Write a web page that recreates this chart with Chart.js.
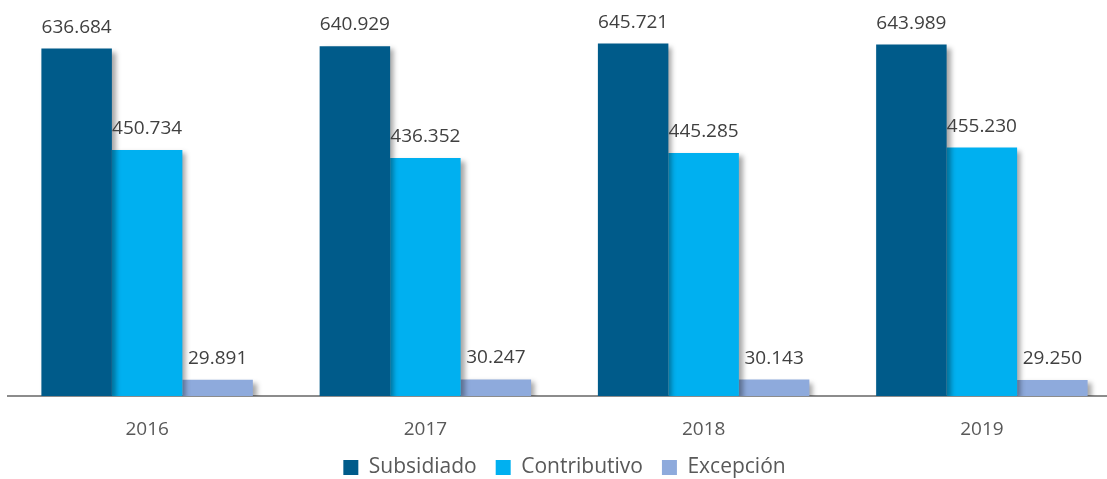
<!DOCTYPE html>
<html>
<head>
<meta charset="utf-8">
<script src="https://cdn.jsdelivr.net/npm/chart.js@4.4.0/dist/chart.umd.min.js"></script>
<style>
  html, body { margin: 0; padding: 0; background: #fff; overflow: hidden; }
  #wrap { width: 1107px; height: 479px; overflow: hidden; }
</style>
</head>
<body>
<div id="wrap"><canvas id="grafico" width="1122" height="488"></canvas></div>
<script>
// Datos del gráfico
const anios = ['2016', '2017', '2018', '2019'];
const subsidiado = [636684, 640929, 645721, 643989];
const contributivo = [450734, 436352, 445285, 455230];
const excepcion = [29891, 30247, 30143, 29250];

const colores = ['#005b8a', '#00b0f0', '#8eaadc'];
const fuente = "'Open Sans', 'Noto Sans', sans-serif";

const formatoMiles = v => String(v).replace(/\B(?=(\d{3})+(?!\d))/g, '.');

// Sombra de las barras
const sombraBarras = {
  id: 'sombraBarras',
  beforeDatasetsDraw(chart) {
    const ctx = chart.ctx;
    ctx.save();
    ctx.shadowColor = 'rgba(0,0,0,0.35)';
    ctx.shadowBlur = 5;
    ctx.shadowOffsetX = 4;
    ctx.shadowOffsetY = 3;
  },
  afterDatasetsDraw(chart) {
    chart.ctx.restore();
  }
};

// Etiquetas de valor sobre cada barra
const etiquetasValor = {
  id: 'etiquetasValor',
  afterDatasetsDraw(chart) {
    const ctx = chart.ctx;
    ctx.save();
    ctx.font = '19px ' + fuente;
    ctx.fillStyle = '#404040';
    ctx.textAlign = 'center';
    ctx.textBaseline = 'alphabetic';
    chart.data.datasets.forEach((ds, i) => {
      chart.getDatasetMeta(i).data.forEach((bar, j) => {
        ctx.fillText(formatoMiles(ds.data[j]), bar.x, bar.y - 16);
      });
    });
    ctx.restore();
  }
};

new Chart(document.getElementById('grafico'), {
  type: 'bar',
  data: {
    labels: anios,
    datasets: [
      { label: 'Subsidiado', data: subsidiado, backgroundColor: colores[0] },
      { label: 'Contributivo', data: contributivo, backgroundColor: colores[1] },
      { label: 'Excepción', data: excepcion, backgroundColor: colores[2] }
    ]
  },
  options: {
    responsive: false,
    animation: false,
    devicePixelRatio: 1,
    categoryPercentage: 0.76,
    barPercentage: 1.0,
    layout: { padding: { left: 8, right: 1, top: 14, bottom: 0 } },
    plugins: {
      legend: {
        position: 'bottom',
        labels: {
          boxWidth: 15,
          boxHeight: 15,
          padding: 19,
          color: '#595959',
          font: { family: fuente, size: 21, lineHeight: 1 }
        }
      },
      tooltip: { enabled: false }
    },
    scales: {
      x: {
        grid: { display: false, drawTicks: false },
        border: { display: true, color: '#8c8c8c', width: 2 },
        ticks: { color: '#595959', padding: 24, font: { family: fuente, size: 19, lineHeight: 1 } },
        afterFit: scale => { scale.height = 42; }
      },
      y: {
        display: false,
        min: 0,
        max: 700000
      }
    }
  },
  plugins: [sombraBarras, etiquetasValor]
});
</script>
</body>
</html>
